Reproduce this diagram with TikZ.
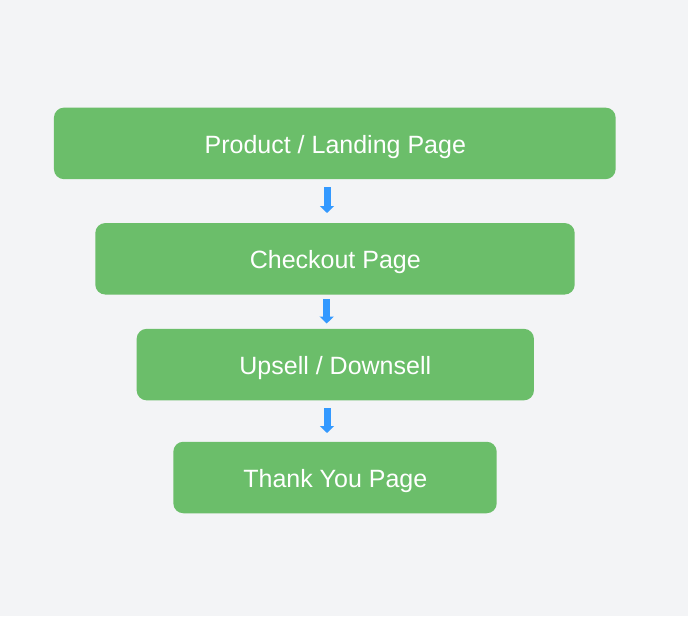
\documentclass[tikz,border=0pt]{standalone}
\usepackage{fontspec}
\setmainfont{Liberation Sans}
\usetikzlibrary{arrows.meta}
\definecolor{bgc}{HTML}{F3F4F6}
\definecolor{boxgreen}{HTML}{6BBE6A}
\definecolor{arrowblue}{HTML}{3399FF}
\tikzset{
  stagebox/.style={fill=boxgreen, draw=none, rounded corners=10pt, inner sep=0pt, minimum height=71.5pt},
  stagetext/.style={text=white, font=\fontsize{25pt}{30pt}\selectfont, anchor=base, inner sep=0pt},
  flowarrow/.style={draw=arrowblue, line width=7pt, -{Triangle[width=14pt,length=7pt]}}
}
\begin{document}
\begin{tikzpicture}[x=1pt,y=-1pt]
\fill[bgc] (0,0) rectangle (688,616);
\useasboundingbox (0,0) rectangle (688,616);
\node[stagebox, minimum width=561.7pt] (b1) at (334.8,143.4) {};
\node[stagebox, minimum width=479.4pt] (b2) at (335,258.8) {};
\node[stagebox, minimum width=397.3pt] (b3) at (335.3,364.6) {};
\node[stagebox, minimum width=323.4pt] (b4) at (335,477.5) {};
\node[stagetext] (t1) at (335.3,153.3) {Product / Landing Page};
\node[stagetext] (t2) at (335.3,268.5) {Checkout Page};
\node[stagetext] (t3) at (335.3,374.4) {Upsell / Downsell};
\node[stagetext] (t4) at (335.3,487.3) {Thank You Page};
\coordinate (a1s) at (327,187);
\coordinate (a1e) at (327,213);
\coordinate (a2s) at (326.7,299);
\coordinate (a2e) at (326.7,323.5);
\coordinate (a3s) at (327,408);
\coordinate (a3e) at (327,433);
\draw[flowarrow] (a1s) -- (a1e);
\draw[flowarrow] (a2s) -- (a2e);
\draw[flowarrow] (a3s) -- (a3e);
\end{tikzpicture}
\end{document}
